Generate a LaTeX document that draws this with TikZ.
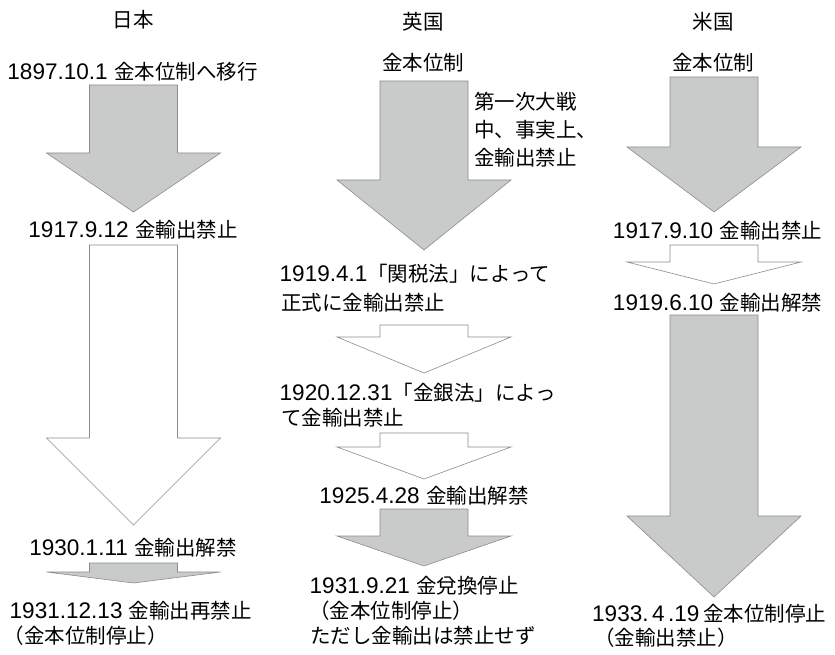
\documentclass[tikz,border=0pt]{standalone}
\usepackage{fontspec}
\setmainfont{Noto Sans CJK JP}
\newfontfamily\latfont[Scale=1.1]{Liberation Sans}
\newcommand\latn[1]{{\latfont #1}}
\definecolor{arrowgray}{RGB}{201,202,202}
\definecolor{edgegray}{RGB}{140,140,140}
\tikzset{
 lbl/.style={inner sep=0pt, font=\fontsize{20.5}{25}\selectfont, anchor=base west},
 clbl/.style={lbl, anchor=base},
 grayarrow/.style={draw=edgegray, line width=0.6pt, fill=arrowgray, line join=miter},
 whitearrow/.style={draw=edgegray, line width=0.6pt, fill=white, line join=miter},
}
\newcommand\fatarrow[5]{\draw[#1] ({#2-44},#3) -- ({#2+44},#3) -- ({#2+44},#4) -- ({#2+87},#4) -- (#2,#5) -- ({#2-87},#4) -- ({#2-44},#4) -- cycle;}
\begin{document}
\begin{tikzpicture}[x=1pt,y=-1pt]
\useasboundingbox (0,0) rectangle (835,655);
% ---------- Japan ----------
\fatarrow{grayarrow}{133.5}{85}{153}{212}
\fatarrow{whitearrow}{133.5}{245}{438}{525}
\fatarrow{grayarrow}{133.5}{563}{572}{583}
\node[clbl] (jp) at (133,28) {日本};
\node[clbl] (jp1) at (132.5,80) {\latn{1897.10.1 }金本位制へ移行};
\node[clbl] (jp2) at (133,237) {\latn{1917.9.12 }金輸出禁止};
\node[clbl] (jp3) at (133,555) {\latn{1930.1.11 }金輸出解禁};
\node[lbl] (jp4) at (9.5,618) {\latn{1931.12.13 }金輸出再禁止};
\node[lbl] (jp4b) at (3.5,643) {（金本位制停止）};
% ---------- UK ----------
\fatarrow{grayarrow}{424}{81}{180}{250}
\fatarrow{whitearrow}{424}{325}{337}{373}
\fatarrow{whitearrow}{424}{433}{447}{479}
\fatarrow{grayarrow}{424}{509}{536}{566}
\node[clbl] (uk) at (423,30) {英国};
\node[clbl] (uk0) at (423,71) {金本位制};
\node[lbl] (ukside1) at (474,110) {第一次大戦};
\node[lbl] (ukside2) at (474,138) {中、事実上、};
\node[lbl] (ukside3) at (474,166) {金輸出禁止};
\node[lbl] (uk1) at (279.5,281) {\latn{1919.4.1}「関税法」によって};
\node[lbl] (uk1b) at (281,310) {正式に金輸出禁止};
\node[lbl] (uk2) at (279.5,400) {\latn{1920.12.31}「金銀法」によっ};
\node[lbl] (uk2b) at (281,425) {て金輸出禁止};
\node[clbl] (uk3) at (424,503) {\latn{1925.4.28 }金輸出解禁};
\node[lbl] (uk4) at (309.5,593) {\latn{1931.9.21 }金兌換停止};
\node[lbl] (uk4b) at (309,618) {（金本位制停止）};
\node[lbl] (uk4c) at (310,643) {ただし金輸出は禁止せず};
% ---------- US ----------
\fatarrow{grayarrow}{714}{77}{147}{212}
\fatarrow{whitearrow}{714}{245}{262}{284}
\fatarrow{grayarrow}{714}{315}{516}{597}
\node[clbl] (us) at (713,30) {米国};
\node[clbl] (us0) at (713,71) {金本位制};
\node[clbl] (us1) at (717.5,238) {\latn{1917.9.10 }金輸出禁止};
\node[clbl] (us2) at (717.5,310) {\latn{1919.6.10 }金輸出解禁};
\node[lbl] (us3) at (592,621) {\latn{1933.\hspace{3.5pt}4\hspace{3.5pt}.19\hspace{3.5pt}}金本位制停止};
\node[lbl] (us3b) at (594,645) {（金輸出禁止）};
\end{tikzpicture}
\end{document}
